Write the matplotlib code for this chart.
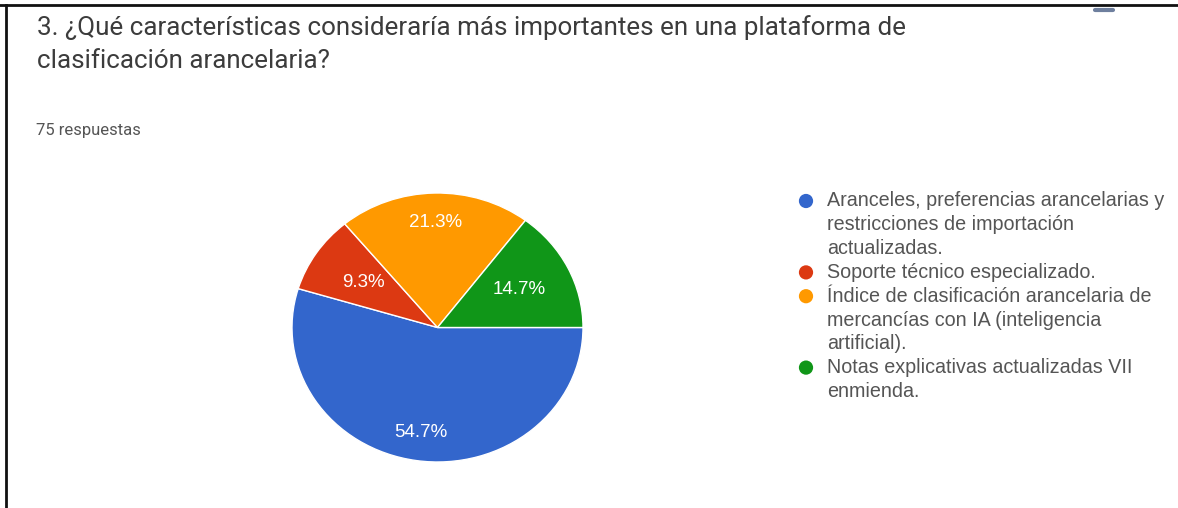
import numpy as np
import matplotlib.pyplot as plt
from matplotlib.lines import Line2D

plt.rcParams.update({
    "font.family": ["Roboto", "DejaVu Sans"],
})

# --- data ---
title_lines = [
    "3. ¿Qué características consideraría más importantes en una plataforma de",
    "clasificación arancelaria?",
]
n_responses = 75
categories = [
    "Aranceles, preferencias arancelarias y restricciones de importación actualizadas.",
    "Soporte técnico especializado.",
    "Índice de clasificación arancelaria de mercancías con IA (inteligencia artificial).",
    "Notas explicativas actualizadas VII enmienda.",
]
legend_lines = [
    ["Aranceles, preferencias arancelarias y", "restricciones de importación", "actualizadas."],
    ["Soporte técnico especializado."],
    ["Índice de clasificación arancelaria de", "mercancías con IA (inteligencia", "artificial)."],
    ["Notas explicativas actualizadas VII", "enmienda."],
]
counts = [41, 7, 16, 11]
colors = ["#3366cc", "#dc3912", "#ff9900", "#109618"]
label_dist = [0.79, 0.61, 0.78, 0.63]

W, H = 1178, 508
fig = plt.figure(figsize=(W / 100, H / 100), dpi=100)
fig.patch.set_facecolor("white")

# overlay in pixel coords for text and frame
bg = fig.add_axes([0, 0, 1, 1])
bg.set_xlim(0, W)
bg.set_ylim(H, 0)
bg.axis("off")

# screenshot frame
fig.add_artist(Line2D([0, 1], [1 - 5 / H, 1 - 5 / H], color="#111111", lw=2))
fig.add_artist(Line2D([6 / W, 6 / W], [0, 1 - 5 / H], color="#111111", lw=2))
fig.add_artist(Line2D([1095 / W, 1113 / W], [1 - 10 / H, 1 - 10 / H], color="#4a5f86", lw=3, alpha=0.8,
                      solid_capstyle="round"))

bg.text(37, 28, title_lines[0], fontsize=18.75, color="#3c3c3c", va="center", ha="left")
bg.text(37, 61, title_lines[1], fontsize=18.75, color="#3c3c3c", va="center", ha="left")
bg.text(36, 130, f"{n_responses} respuestas", fontsize=12, color="#555555", va="center", ha="left")

# pie (slightly stretched horizontally, like the screenshot)
px0, px1, py0, py1 = 292, 583, 193, 462
pax = fig.add_axes([px0 / W, 1 - py1 / H, (px1 - px0) / W, (py1 - py0) / H])
wedges, _, autotexts = pax.pie(
    counts, colors=colors, startangle=0, counterclock=False,
    autopct="%.1f%%", pctdistance=0.7, radius=1,
    wedgeprops=dict(edgecolor="white", linewidth=1),
    textprops=dict(color="white", fontsize=13.5, family=["Liberation Sans", "DejaVu Sans"]),
)
pax.set_aspect("auto")
pax.set_xlim(-1, 1)
pax.set_ylim(-1, 1)
for w, t, d in zip(wedges, autotexts, label_dist):
    ang = np.deg2rad((w.theta1 + w.theta2) / 2)
    t.set_position((d * np.cos(ang), d * np.sin(ang)))

# legend
y = 201
for col, lines in zip(colors, legend_lines):
    bg.scatter([806], [y], s=105, color=col, edgecolors="none")
    for ln in lines:
        bg.text(827, y, ln, fontsize=14.2, color="#555555", va="center", ha="left",
                family=["Liberation Sans", "DejaVu Sans"])
        y += 23.8

fig.savefig("out.png", dpi=100, facecolor="white")
